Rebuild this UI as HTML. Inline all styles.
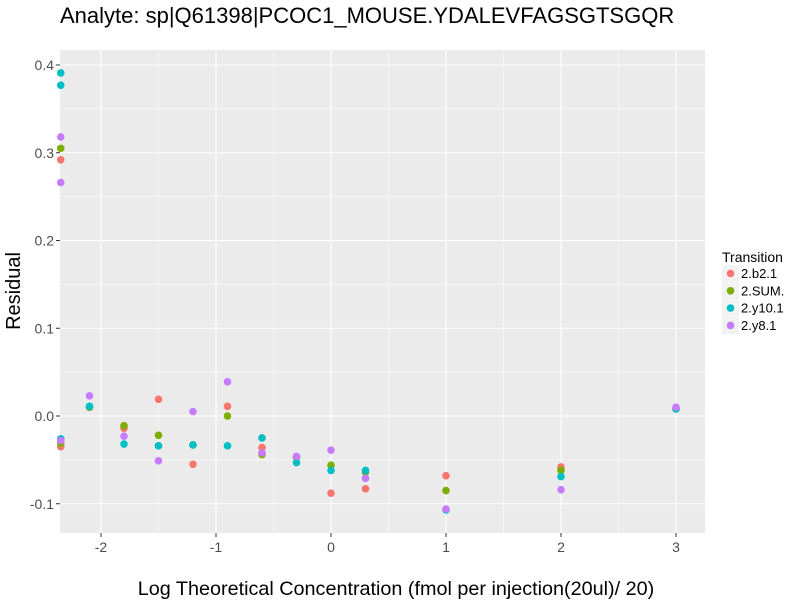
<!DOCTYPE html>
<html><head><meta charset="utf-8"><style>
body{margin:0;background:#fff;font-family:"Liberation Sans",sans-serif}
</style></head><body>
<svg width="800" height="600" xmlns="http://www.w3.org/2000/svg" font-family="Liberation Sans, sans-serif">
<text x="60" y="23" font-size="22" fill="#000">Analyte: sp|Q61398|PCOC1_MOUSE.YDALEVFAGSGTSGQR</text>
<rect x="60" y="50" width="645" height="483" fill="#ebebeb"/>
<g id="grid"></g>
<g id="pts"></g>
<g id="axes"></g>
<text transform="translate(20,291) rotate(-90)" text-anchor="middle" font-size="20">Residual</text>
<text x="396" y="595" text-anchor="middle" font-size="19.8">Log Theoretical Concentration (fmol per injection(20ul)/ 20)</text>
<g>
<text x="722" y="262" font-size="14">Transition</text>
<g id="leg"></g>
</g>
</svg>
<script>
const xs=[-2.35,-2.1,-1.8,-1.5,-1.2,-0.9,-0.6,-0.3,0,0.3,1,2,3];
const seriesNames=["2.b2.1","2.SUM.","2.y10.1","2.y8.1"];
const colors=["#F8766D","#7CAE00","#00BFC4","#C77CFF"];
const red=[[0.292,-0.035],[0.010],[-0.014],[0.019],[-0.055],[0.011],[-0.036],[-0.047],[-0.088],[-0.083],[-0.068],[-0.058],[0.009]];
const green=[[0.305,-0.031],[0.010],[-0.011],[-0.022],[-0.033],[0.0],[-0.044],[-0.047],[-0.056],[-0.064],[-0.085],[-0.062],[0.008]];
const cyan=[[0.391,0.377,-0.026],[0.011],[-0.032],[-0.034],[-0.033],[-0.034],[-0.025],[-0.053],[-0.062],[-0.062],[-0.107],[-0.069],[0.008]];
const purple=[[0.318,0.266,-0.028],[0.023],[-0.023],[-0.051],[0.005],[0.039],[-0.042],[-0.046],[-0.039],[-0.071],[-0.106],[-0.084],[0.010]];
const xTicks=[-2,-1,0,1,2,3];
const yTicks=[-0.1,0.0,0.1,0.2,0.3,0.4];
const NS="http://www.w3.org/2000/svg";
const X=v=>331+v*115, Y=v=>416-v*877.5;
function mk(t,a,p){const e=document.createElementNS(NS,t);for(const k in a)e.setAttribute(k,a[k]);p.appendChild(e);return e;}
const g=document.getElementById('grid');
xTicks.forEach(t=>{
 const l=mk('line',{x1:X(t),x2:X(t),y1:50,y2:533,stroke:'#fff','stroke-width':1.1},g);
 
 
 const m=mk('line',{x1:X(t+0.5),x2:X(t+0.5),y1:50,y2:533,stroke:'#fff','stroke-width':0.5},g);
 
 
});
mk('line',{x1:X(-2.5),x2:X(-2.5),y1:50,y2:533,stroke:'#fff','stroke-width':0.5},g);
yTicks.forEach(t=>{
 const l=mk('line',{x1:60,x2:705,y1:Y(t),y2:Y(t),stroke:'#fff','stroke-width':1.1},g);
 
 
 if(t<0.4){const m=mk('line',{x1:60,x2:705,y1:Y(t+0.05),y2:Y(t+0.05),stroke:'#fff','stroke-width':0.5},g);
 
 }
});
const ax=document.getElementById('axes');
xTicks.forEach(t=>{
 mk('line',{x1:X(t),x2:X(t),y1:533,y2:537,stroke:'#333'},ax);
 const tx=mk('text',{x:X(t),y:552,'text-anchor':'middle','font-size':14,fill:'#4d4d4d'},ax);
 tx.textContent=t;
 
 
});
yTicks.forEach(t=>{
 mk('line',{x1:56,x2:60,y1:Y(t),y2:Y(t),stroke:'#333'},ax);
 const tx=mk('text',{x:54,y:Y(t)+5,'text-anchor':'end','font-size':14,fill:'#4d4d4d'},ax);
 tx.textContent=t.toFixed(1);
 
 
});
const pts=document.getElementById('pts');
[red,green,cyan,purple].forEach((s,si)=>{
 s.forEach((vals,i)=>vals.forEach(v=>{
  const c=mk('circle',{cx:X(xs[i]),cy:Y(v),r:3.8,fill:colors[si]},pts);
  
  
 }));
});
const leg=document.getElementById('leg');
seriesNames.forEach((n,i)=>{
 const y=273+i*17.3;
 mk('rect',{x:722,y:y-8,width:17,height:17,fill:'#f2f2f2'},leg);
 const c=mk('circle',{cx:730.5,cy:y+0.5,r:3.8,fill:colors[i]},leg);
 
 
 const t=mk('text',{x:741,y:y+5,'font-size':13},leg);
 t.textContent=n;
 
 
});
</script>
</body></html>
